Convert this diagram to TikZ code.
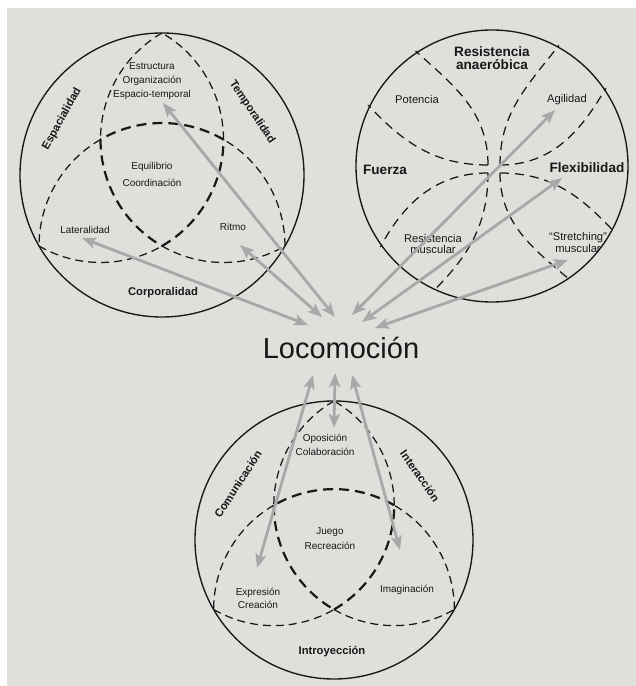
\documentclass[tikz,border=0pt]{standalone}
\usepackage{fontspec}
\setmainfont{Liberation Sans}
\usetikzlibrary{arrows.meta,calc}

\definecolor{paper}{RGB}{223,224,220}
\definecolor{ink}{RGB}{24,24,24}
\definecolor{linkgray}{RGB}{168,168,168}

\tikzset{
  rim/.style={draw=ink, line width=1.35pt},
  venn thin/.style={draw=ink, line width=1.25pt, dash pattern=on 8pt off 5pt},
  venn thick/.style={draw=ink, line width=2.2pt, dash pattern=on 10pt off 6pt},
  sector/.style={draw=ink, line width=1.25pt, dash pattern=on 9pt off 6pt},
  linkhead/.tip={Stealth[length=14pt,width=11pt,inset=3pt]},
  link/.style={draw=linkgray, line width=2.8pt, linkhead-linkhead},
  lbl/.style={text=ink, align=center, inner sep=0pt},
  smallA/.style={lbl, font=\fontsize{10}{14}\selectfont},
  boldA/.style={lbl, font=\fontsize{11.2}{13}\selectfont\bfseries},
  smallB/.style={lbl, font=\fontsize{11.2}{12}\selectfont},
  boldB/.style={lbl, font=\fontsize{13.6}{13.6}\selectfont\bfseries},
}

% three overlapping arcs inside a circle: each arc is centred on one of three
% points at half the radius and passes through the two other points
\newcommand\vennarcs[2]{%
  \foreach \p in {-90,30,150}{%
    \pgfmathsetmacro\rr{#2*0.8660254}%
    \draw[venn thin] ($(#1)+(\p:#2/2)$) ++(\p+90:\rr) arc[start angle=\p+90, end angle=\p+150, radius=\rr];
    \draw[venn thick] ($(#1)+(\p:#2/2)$) ++(\p+150:\rr) arc[start angle=\p+150, end angle=\p+210, radius=\rr];
    \draw[venn thin] ($(#1)+(\p:#2/2)$) ++(\p+210:\rr) arc[start angle=\p+210, end angle=\p+270, radius=\rr];
  }%
}

\begin{document}
\begin{tikzpicture}[x=1pt,y=1pt]
  % page
  \fill[white] (0,0) rectangle (636,686);
  \fill[paper] (7,0) rectangle (636,678);
  \useasboundingbox (0,0) rectangle (636,686);

  % ---------- left circle ----------
  \coordinate (cL) at (162,511);
  \vennarcs{cL}{142}
  \draw[rim] (cL) circle[radius=142];
  \node[smallA] (est) at (152,605) {Estructura\\Organización\\Espacio-temporal};
  \node[smallA, font=\fontsize{10}{17}\selectfont] (equ) at (152,512) {Equilibrio\\Coordinación};
  \node[smallA] (lat) at (85,456) {Lateralidad};
  \node[smallA] (rit) at (233,459) {Ritmo};
  \node[boldA] (corp) at (163,393) {Corporalidad};
  \node[boldA, rotate=61] (espa) at (62,567) {Espacialidad};
  \node[boldA, rotate=-56] (temp) at (252,574) {Temporalidad};

  % ---------- right circle ----------
  \coordinate (cR) at (492,520);
  \coordinate (tl) at (488,521);
  \coordinate (tr) at (500,521);
  \coordinate (bl) at (488,513);
  \coordinate (br) at (500,513);
  \coordinate (kA) at ($(cR)+(123.6:138)$);
  \coordinate (kB) at ($(cR)+(61:138)$);
  \coordinate (kC) at ($(cR)+(153.8:138)$);
  \coordinate (kD) at ($(cR)+(34.4:138)$);
  \coordinate (kE) at ($(cR)+(216:138)$);
  \coordinate (kF) at ($(cR)+(331.8:138)$);
  \coordinate (kG) at ($(cR)+(244.9:138)$);
  \coordinate (kH) at ($(cR)+(304.4:138)$);
  \draw[sector] (tl) to[out=90, in=-42] (kA);
  \draw[sector] (tr) to[out=90, in=-128] (kB);
  \draw[sector] (tl) to[out=180, in=-47] (kC);
  \draw[sector] (tr) to[out=0, in=-120] (kD);
  \draw[sector] (bl) to[out=180, in=62] (kE);
  \draw[sector] (br) to[out=0, in=133] (kF);
  \draw[sector] (bl) to[out=-90, in=45] (kG);
  \draw[sector] (br) to[out=-90, in=140] (kH);
  \draw[rim] (cR) circle[radius=136];
  \node[boldB] (resan) at (492,628) {Resistencia\\anaeróbica};
  \node[smallB] (pot) at (417,586) {Potencia};
  \node[smallB] (agi) at (567,586) {Agilidad};
  \node[boldB] (fue) at (385,516) {Fuerza};
  \node[boldB] (flex) at (587,518) {Flexibilidad};
  \node[smallB] (resmus) at (433,442) {Resistencia\\muscular};
  \node[smallB] (stretch) at (578,443) {“Stretching”\\muscular};

  % ---------- bottom circle ----------
  \coordinate (cB) at (334,146);
  \vennarcs{cB}{139}
  \draw[rim] (cB) circle[radius=139];
  \node[smallA] (opo) at (325,241) {Oposición\\Colaboración};
  \node[smallA, font=\fontsize{10}{15}\selectfont] (jue) at (330,147) {Juego\\Recreación};
  \node[smallA, font=\fontsize{10}{13}\selectfont] (expr) at (258,88) {Expresión\\Creación};
  \node[smallA] (ima) at (407,96) {Imaginación};
  \node[boldA] (intro) at (332,34) {Introyección};
  \node[boldA, rotate=57] (comu) at (238,202) {Comunicación};
  \node[boldA, rotate=-55] (inter) at (420,210) {Interacción};

  % ---------- centre ----------
  \node[lbl, font=\fontsize{29}{30}\selectfont] (loco) at (341,338) {Locomoción};

  % arrow ends
  \coordinate (aL1) at (308,361);  \coordinate (zL1) at (82,448);
  \coordinate (aL2) at (322,369);  \coordinate (zL2) at (240,441);
  \coordinate (aL3) at (335,369);  \coordinate (zL3) at (163,583);
  \coordinate (aR1) at (352,371);  \coordinate (zR1) at (555,576);
  \coordinate (aR2) at (362,364);  \coordinate (zR2) at (562,508);
  \coordinate (aR3) at (375,358);  \coordinate (zR3) at (568,426);
  \coordinate (aB1) at (313,311);  \coordinate (zB1) at (257,118);
  \coordinate (aB2) at (335,313);  \coordinate (zB2) at (334,258);
  \coordinate (aB3) at (352,311);  \coordinate (zB3) at (400,136);

  \foreach \k in {L1,L2,L3,R1,R2,R3,B1,B2,B3}
    \draw[link] (a\k) -- (z\k);
\end{tikzpicture}
\end{document}
